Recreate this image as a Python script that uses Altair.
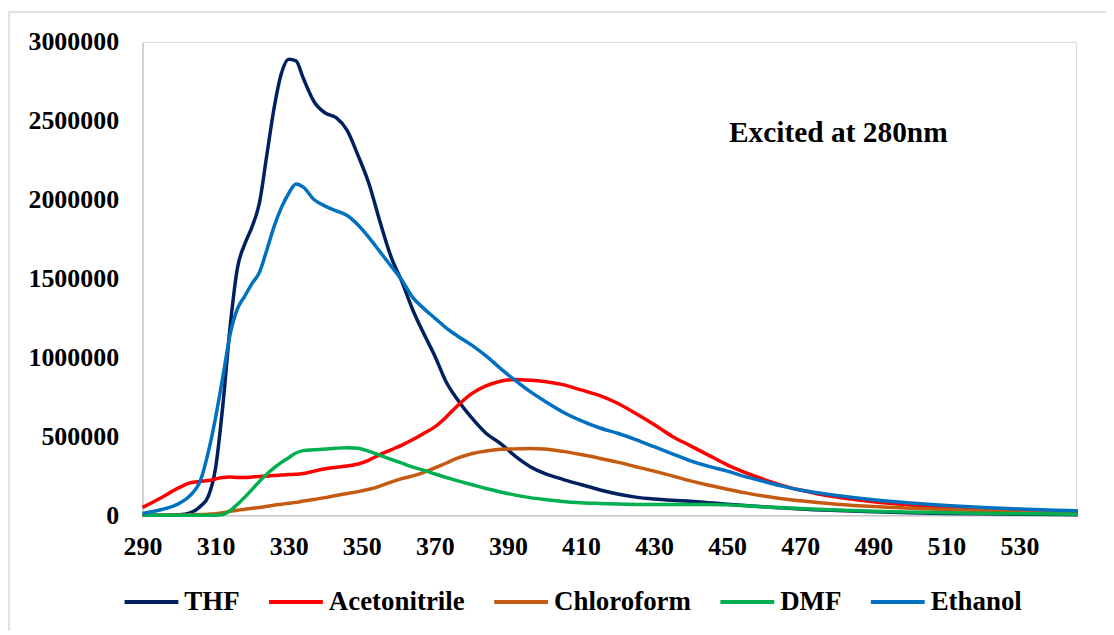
import altair as alt
import pandas as pd

wavelength = [290, 295, 300, 303, 306, 308,
              310, 312, 314, 316, 318, 320, 322, 324, 326, 328, 330, 332, 334,
              337, 340, 343, 346, 349, 352, 355, 358, 361, 364, 367, 370, 373, 376,
              380, 384, 388, 392, 396, 400,
              405, 410, 415, 420, 425, 430, 435, 440, 445, 450, 455, 460, 465, 470,
              480, 490, 500, 510, 520, 530, 540, 546]

thf = [0, 0, 3000, 15000, 60000, 120000,
       300000, 700000, 1200000, 1570000, 1720000, 1830000, 1980000, 2280000, 2580000, 2800000, 2890000, 2880000, 2770000,
       2620000, 2550000, 2520000, 2440000, 2280000, 2100000, 1860000, 1640000, 1480000, 1300000, 1150000, 1010000, 850000, 740000,
       620000, 520000, 455000, 375000, 310000, 265000,
       228000, 195000, 162000, 135000, 115000, 103000, 95000, 89000, 80000, 70000, 62000, 54000, 47000, 40000,
       30000, 22000, 16000, 12000, 9000, 7000, 5000, 4000]

acetonitrile = [50000, 110000, 175000, 205000, 215000, 220000,
                230000, 240000, 242000, 240000, 240000, 243000, 246000, 248000, 252000, 255000, 258000, 260000, 265000,
                280000, 295000, 305000, 312000, 325000, 350000, 385000, 415000, 445000, 480000, 520000, 560000, 620000, 690000,
                770000, 820000, 850000, 860000, 856000, 848000,
                828000, 795000, 760000, 710000, 645000, 575000, 500000, 440000, 380000, 320000, 270000, 228000, 190000, 160000,
                115000, 85000, 65000, 50000, 40000, 32000, 26000, 23000]

chloroform = [0, 0, 2000, 3000, 5000, 7000,
              10000, 17000, 25000, 32000, 38000, 44000, 50000, 57000, 64000, 70000, 76000, 82000, 90000,
              100000, 112000, 125000, 138000, 150000, 165000, 185000, 210000, 232000, 250000, 272000, 300000, 330000, 360000,
              390000, 408000, 418000, 421000, 423000, 420000,
              405000, 385000, 362000, 337000, 308000, 280000, 250000, 218000, 190000, 165000, 142000, 122000, 105000, 92000,
              70000, 55000, 45000, 37000, 30000, 25000, 20000, 18000]

dmf = [0, 0, 0, 0, 0, 0,
       0, 5000, 30000, 70000, 115000, 164000, 215000, 260000, 300000, 335000, 365000, 395000, 410000,
       415000, 420000, 425000, 428000, 425000, 405000, 380000, 355000, 330000, 305000, 285000, 262000, 240000, 220000,
       195000, 170000, 148000, 128000, 112000, 100000,
       88000, 80000, 75000, 71000, 69000, 68000, 68000, 68000, 68000, 66000, 60000, 53000, 48000, 43000,
       33000, 25000, 20000, 16000, 13000, 10000, 8000, 7000]

ethanol = [12000, 35000, 75000, 125000, 230000, 400000,
           620000, 880000, 1150000, 1310000, 1390000, 1470000, 1540000, 1680000, 1830000, 1950000, 2040000, 2100000, 2080000,
           2000000, 1960000, 1930000, 1900000, 1840000, 1760000, 1670000, 1580000, 1490000, 1380000, 1310000, 1250000, 1190000, 1140000,
           1080000, 1010000, 930000, 855000, 785000, 725000,
           655000, 600000, 555000, 520000, 480000, 435000, 390000, 345000, 310000, 280000, 245000, 215000, 185000, 160000,
           125000, 98000, 78000, 62000, 50000, 40000, 32000, 28000]

series_names = ["THF", "Acetonitrile", "Chloroform", "DMF", "Ethanol"]
series_colors = ["#002060", "#FF0000", "#C55A11", "#00B050", "#0070C0"]
x_ticks = list(range(290, 531, 20))
y_ticks = list(range(0, 3000001, 500000))
annotation_text = ["Excited at 280nm"]
annotation_x = [450.5]
annotation_y = [2425000]

all_values = [thf, acetonitrile, chloroform, dmf, ethanol]
rows = []
for order, (name, vals) in enumerate(zip(series_names, all_values)):
    assert len(vals) == len(wavelength), name
    for w, v in zip(wavelength, vals):
        rows.append({"series": name, "order": order, "nm": w, "value": v})
df = pd.DataFrame(rows)

FONT = "Liberation Serif"

x_enc = alt.X("nm:Q",
              scale=alt.Scale(domain=[290, 545.5], nice=False, zero=False),
              axis=alt.Axis(values=x_ticks, format="d", title=None, grid=False,
                            ticks=False, tickSize=0, labelPadding=18,
                            domainColor="#C8C8C8", domainWidth=1.5,
                            labelFont=FONT, labelFontSize=26, labelFontWeight="bold",
                            labelColor="#000000", labelFlush=False))
y_enc = alt.Y("value:Q",
              scale=alt.Scale(domain=[0, 3000000], nice=False),
              axis=alt.Axis(values=y_ticks, format="d", title=None, grid=False,
                            ticks=False, tickSize=0, labelPadding=24,
                            domainColor="#C8C8C8", domainWidth=1.5,
                            labelFont=FONT, labelFontSize=26, labelFontWeight="bold",
                            labelColor="#000000", labelFlush=False))

lines = alt.Chart(df).mark_line(strokeWidth=3.5, interpolate="monotone").encode(
    x=x_enc,
    y=y_enc,
    color=alt.Color("series:N",
                    scale=alt.Scale(domain=series_names, range=series_colors),
                    sort=series_names,
                    legend=alt.Legend(title=None, orient="none", legendX=-20, legendY=533,
                                      direction="horizontal", symbolType="stroke",
                                      symbolSize=2916, symbolStrokeWidth=4,
                                      labelFont=FONT, labelFontSize=27, labelFontWeight="bold",
                                      labelColor="#000000", labelOffset=4, columnPadding=21,
                                      labelLimit=400)),
    order=alt.Order("order:Q"),
    detail="series:N",
)

ann_df = pd.DataFrame({"text": annotation_text, "nm": annotation_x, "value": annotation_y})
annotation = alt.Chart(ann_df).mark_text(align="left", baseline="middle", font=FONT,
                                         fontSize=29.5, fontWeight="bold", color="#000000").encode(
    x="nm:Q", y="value:Q", text="text:N")

border = alt.Chart(alt.Data(values=[{}])).mark_rect(fill="transparent", stroke="#D9D9D9",
                                                   strokeWidth=1.5).encode(
    x=alt.value(-134), y=alt.value(-30), x2=alt.value(970), y2=alt.value(620))

chart = alt.layer(border, lines, annotation).properties(
    width=937, height=475,
    autosize=alt.AutoSizeParams(type="none"),
    padding={"left": 135, "top": 33, "right": 30, "bottom": 115},
).configure_view(strokeWidth=0).configure(background="#FFFFFF")

chart.save("out.html", embed_options={"renderer": "svg", "actions": False})
